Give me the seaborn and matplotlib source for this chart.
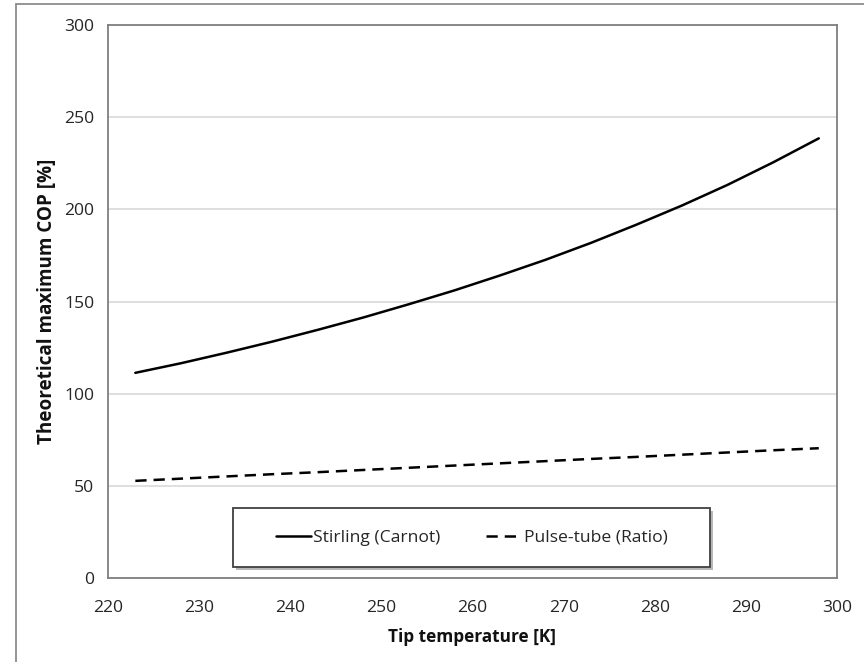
import matplotlib
matplotlib.use("Agg")
import matplotlib.pyplot as plt
import seaborn as sns
import pandas as pd
from matplotlib.lines import Line2D
from matplotlib.patches import Rectangle

# ---- data ----
tip_temperature = [223, 228, 233, 238, 243, 248, 253, 258, 263, 268, 273, 278, 283, 288, 293, 298]
stirling_carnot = [111.3, 116.5, 122.2, 128.2, 134.6, 141.3, 148.5, 156.0, 164.1, 172.6, 181.8, 191.7, 202.1, 213.3, 225.5, 238.5]
pulse_tube_ratio = [52.7, 53.9, 55.1, 56.3, 57.4, 58.6, 59.8, 61.0, 62.2, 63.4, 64.6, 65.7, 66.9, 68.1, 69.3, 70.4]
x_ticks = [220, 230, 240, 250, 260, 270, 280, 290, 300]
y_ticks = [0, 50, 100, 150, 200, 250, 300]
series_names = ["Stirling (Carnot)", "Pulse-tube (Ratio)"]
x_label = "Tip temperature [K]"
y_label = "Theoretical maximum COP [%]"

sns.set_theme(style="white")
plt.rcParams["font.family"] = ["Open Sans", "DejaVu Sans"]

fig = plt.figure(figsize=(8.64, 6.62), dpi=100)
ax = fig.add_axes([108 / 864, 1 - 578 / 662, 729 / 864, 553 / 662])

df1 = pd.DataFrame({"T": tip_temperature, "v": stirling_carnot})
df2 = pd.DataFrame({"T": tip_temperature, "v": pulse_tube_ratio})
sns.lineplot(data=df1, x="T", y="v", ax=ax, color="black", linewidth=1.8)
sns.lineplot(data=df2, x="T", y="v", ax=ax, color="black", linewidth=1.8,
             dashes=False, linestyle=(0, (4.5, 2.8)))

ax.set_xlim(220, 300)
ax.set_ylim(0, 300)
ax.set_xticks(x_ticks)
ax.set_yticks(y_ticks)
ax.yaxis.grid(True, color="#d9d9d9", linewidth=1.2)
ax.xaxis.grid(False)
ax.set_axisbelow(True)

for side, sp in ax.spines.items():
    sp.set_visible(True)
    sp.set_color("#7f7f7f")
    sp.set_linewidth(1.3)

ax.tick_params(axis="both", which="major", direction="out", length=6, width=1,
               color="#a6a6a6", labelsize=12.6, labelcolor="#262626", pad=4)
ax.tick_params(axis="x", pad=9.5)
ax.set_xlabel(x_label, fontsize=12.4, fontweight="bold", color="#111111", labelpad=9)
ax.set_ylabel(y_label, fontsize=13.6, fontweight="bold", color="#111111", labelpad=5)

# legend box with a drop shadow, frameless legend centred inside it
box = (125 / 729, 11 / 553, 477 / 729, 59 / 553)
shadow = Rectangle((box[0] + 3 / 729, box[1] - 3 / 553), box[2], box[3],
                   transform=ax.transAxes, facecolor="#9a9a9a", edgecolor="none",
                   alpha=0.7, zorder=3.9)
rect = Rectangle(box[:2], box[2], box[3], transform=ax.transAxes,
                 facecolor="white", edgecolor="#404040", linewidth=1.3, zorder=4)
ax.add_patch(shadow)
ax.add_patch(rect)

handles = [Line2D([], [], color="black", linewidth=1.8),
           Line2D([], [], color="black", linewidth=1.8, linestyle=(0, (4.5, 2.8)))]
leg = ax.legend(handles, series_names, loc="center", ncol=2,
                bbox_to_anchor=box, frameon=False, fontsize=12.6,
                handlelength=2.0, handletextpad=0.15, columnspacing=2.6,
                borderaxespad=0)
leg.set_zorder(5)

# outer chart-area frame (left and top edges visible)
fig.add_artist(Line2D([16 / 864, 16 / 864], [0, 1 - 4 / 662], transform=fig.transFigure,
                      color="#8c8c8c", linewidth=1.3))
fig.add_artist(Line2D([16 / 864, 1], [1 - 4 / 662, 1 - 4 / 662], transform=fig.transFigure,
                      color="#8c8c8c", linewidth=1.3))

fig.savefig("out.png", dpi=100)
